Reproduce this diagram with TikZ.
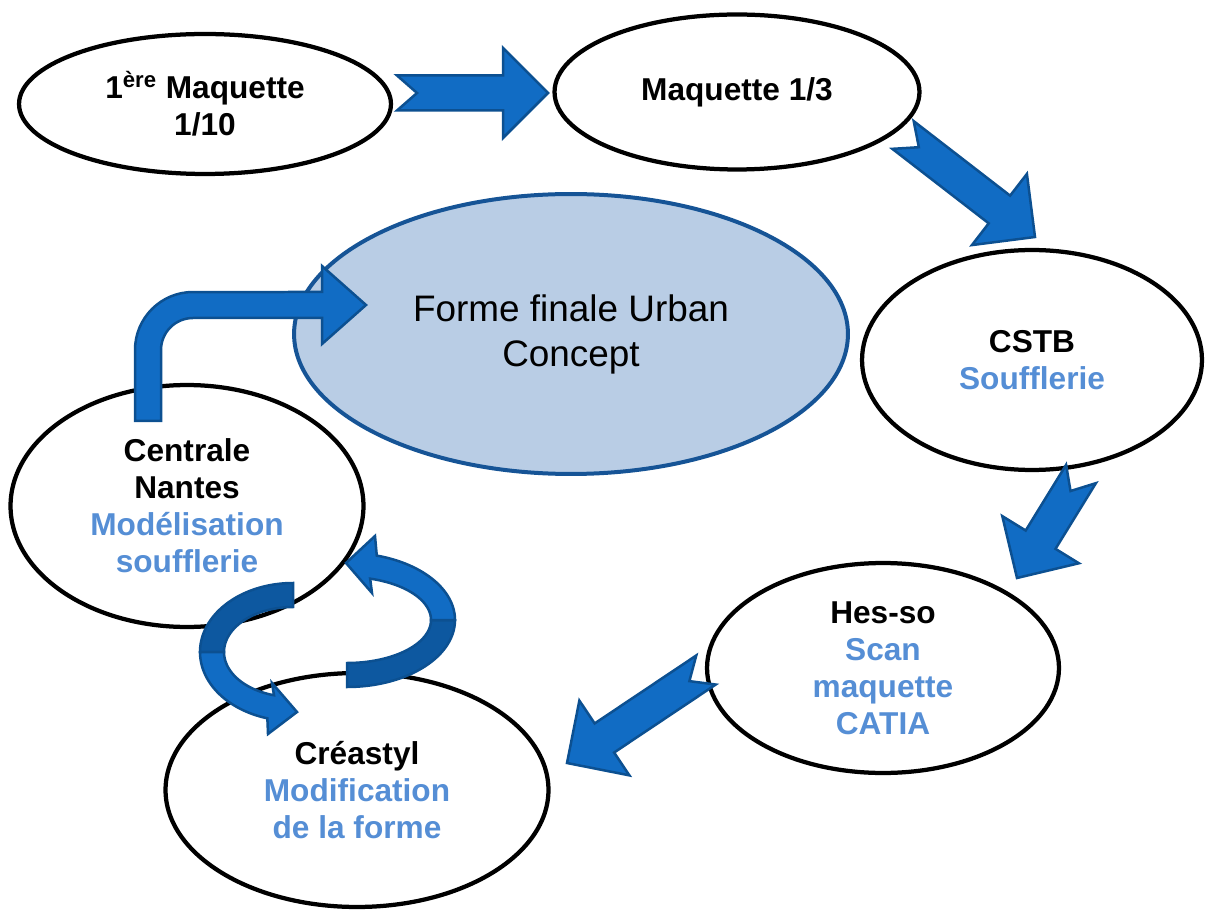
\documentclass[tikz,border=0pt]{standalone}
\usepackage{fontspec}
\setmainfont{Liberation Sans}
\usepackage{tikz}
\usetikzlibrary{shapes.geometric, calc}

\definecolor{txtblue}{RGB}{85,142,213}
\definecolor{arrowfill}{RGB}{17,108,196}
\definecolor{arrowdark}{RGB}{13,88,160}
\definecolor{arrowline}{RGB}{12,80,145}
\definecolor{formfill}{RGB}{185,205,229}
\definecolor{formline}{RGB}{22,84,150}

% block arrow from tail coordinate #1 to tip coordinate #2
\newcommand{\blockarrow}[2]{%
  \coordinate (hb) at ($(#2)!0.9cm!(#1)$);
  \draw[blk] ($(#1)!0.35cm!90:(#2)$) -- ($(hb)!0.35cm!90:(#2)$) -- ($(hb)!0.9cm!90:(#2)$) -- (#2)
    -- ($(hb)!0.9cm!-90:(#2)$) -- ($(hb)!0.35cm!-90:(#2)$) -- ($(#1)!0.35cm!-90:(#2)$)
    -- ($(#1)!0.4cm!(#2)$) -- cycle;
}

\begin{document}
\begin{tikzpicture}[x=0.02cm, y=-0.02cm,
            stage/.style={ellipse, draw=black, line width=0.085cm, align=center, inner sep=0pt, font=\fontsize{18}{21}\selectfont\bfseries},
            blk/.style={fill=arrowfill, draw=arrowline, line width=0.05cm, line join=miter},
            loopplot/.style={samples=40, smooth, variable=\t}
        ]
\useasboundingbox (0,0) rectangle (1212,911);

% Final shape
\node[ellipse, draw=formline, fill=formfill, line width=0.08cm, minimum width=11.08cm, minimum height=5.6cm, align=center, inner sep=0pt, font=\fontsize{21}{25.6}\selectfont] (forme) at (571,334) {Forme finale Urban\\Concept};

% Stages
\node[stage, minimum width=7.44cm, minimum height=2.8cm] (maq10) at (205,104) {1\textsuperscript{ère} Maquette\\1/10};
\node[stage, minimum width=7.3cm, minimum height=3.1cm] (maq3) at (737,92) {Maquette 1/3};
\node[stage, minimum width=6.8cm, minimum height=4.4cm] (cstb) at (1032,360) {CSTB\\\textcolor{txtblue}{Soufflerie}};
\node[stage, minimum width=7.04cm, minimum height=4.2cm] (hesso) at (883,668) {Hes-so\\\textcolor{txtblue}{Scan}\\\textcolor{txtblue}{maquette}\\\textcolor{txtblue}{CATIA}};
\node[stage, minimum width=7.66cm, minimum height=4.68cm] (creastyl) at (357,790) {Créastyl\\\textcolor{txtblue}{Modification}\\\textcolor{txtblue}{de la forme}};
\node[stage, minimum width=7.06cm, minimum height=4.84cm] (centrale) at (187,506) {Centrale\\Nantes\\\textcolor{txtblue}{Modélisation}\\\textcolor{txtblue}{soufflerie}};

% Arrow ends
\coordinate (a1s) at (397,93);   \coordinate (a1e) at (548,93);
\coordinate (a2s) at (903,135);  \coordinate (a2e) at (1035,237);
\coordinate (a3s) at (1081,474); \coordinate (a3e) at (1017,578);
\coordinate (a4s) at (706,670);  \coordinate (a4e) at (567,763);

% Steps of the cycle
\blockarrow{a1s}{a1e}
\blockarrow{a2s}{a2e}
\blockarrow{a3s}{a3e}
\blockarrow{a4s}{a4e}

% Bent arrow to the final shape
\coordinate (bendtail) at (148,421);
\coordinate (bendtip) at (366,305);
\draw[blk] ($(bendtail)+(-13,0)$) -- (135,350) arc[start angle=180, end angle=90, radius=1.16cm]
    -- (322,292) -- (322,266) -- (bendtip) -- (322,344) -- (322,318) -- (193,318)
    arc[start angle=90, end angle=180, radius=0.64cm] -- ($(bendtail)+(13,0)$) -- cycle;

% Loop between Centrale Nantes and Creastyl
\filldraw[blk, fill=arrowdark] plot[loopplot, domain=-90:-180] ({293+93*cos(\t)},{652+69*sin(\t)})
    -- plot[loopplot, domain=-180:-90] ({293+69*cos(\t)},{652+45*sin(\t)}) -- cycle;
\filldraw[blk] plot[loopplot, domain=-180:-254] ({293+93*cos(\t)},{652+69*sin(\t)})
    -- (268,734) -- (297,712) -- (272,683)
    -- plot[loopplot, domain=-254:-180] ({293+69*cos(\t)},{652+45*sin(\t)}) -- cycle;

\filldraw[blk, fill=arrowdark] plot[loopplot, domain=90:0] ({347+108*cos(\t)},{620+67*sin(\t)})
    -- plot[loopplot, domain=0:90] ({347+84*cos(\t)},{620+43*sin(\t)}) -- cycle;
\filldraw[blk] plot[loopplot, domain=0:-74] ({347+108*cos(\t)},{620+67*sin(\t)})
    -- (375,536) -- (346,563) -- (372,593)
    -- plot[loopplot, domain=-74:0] ({347+84*cos(\t)},{620+43*sin(\t)}) -- cycle;

\end{tikzpicture}
\end{document}
